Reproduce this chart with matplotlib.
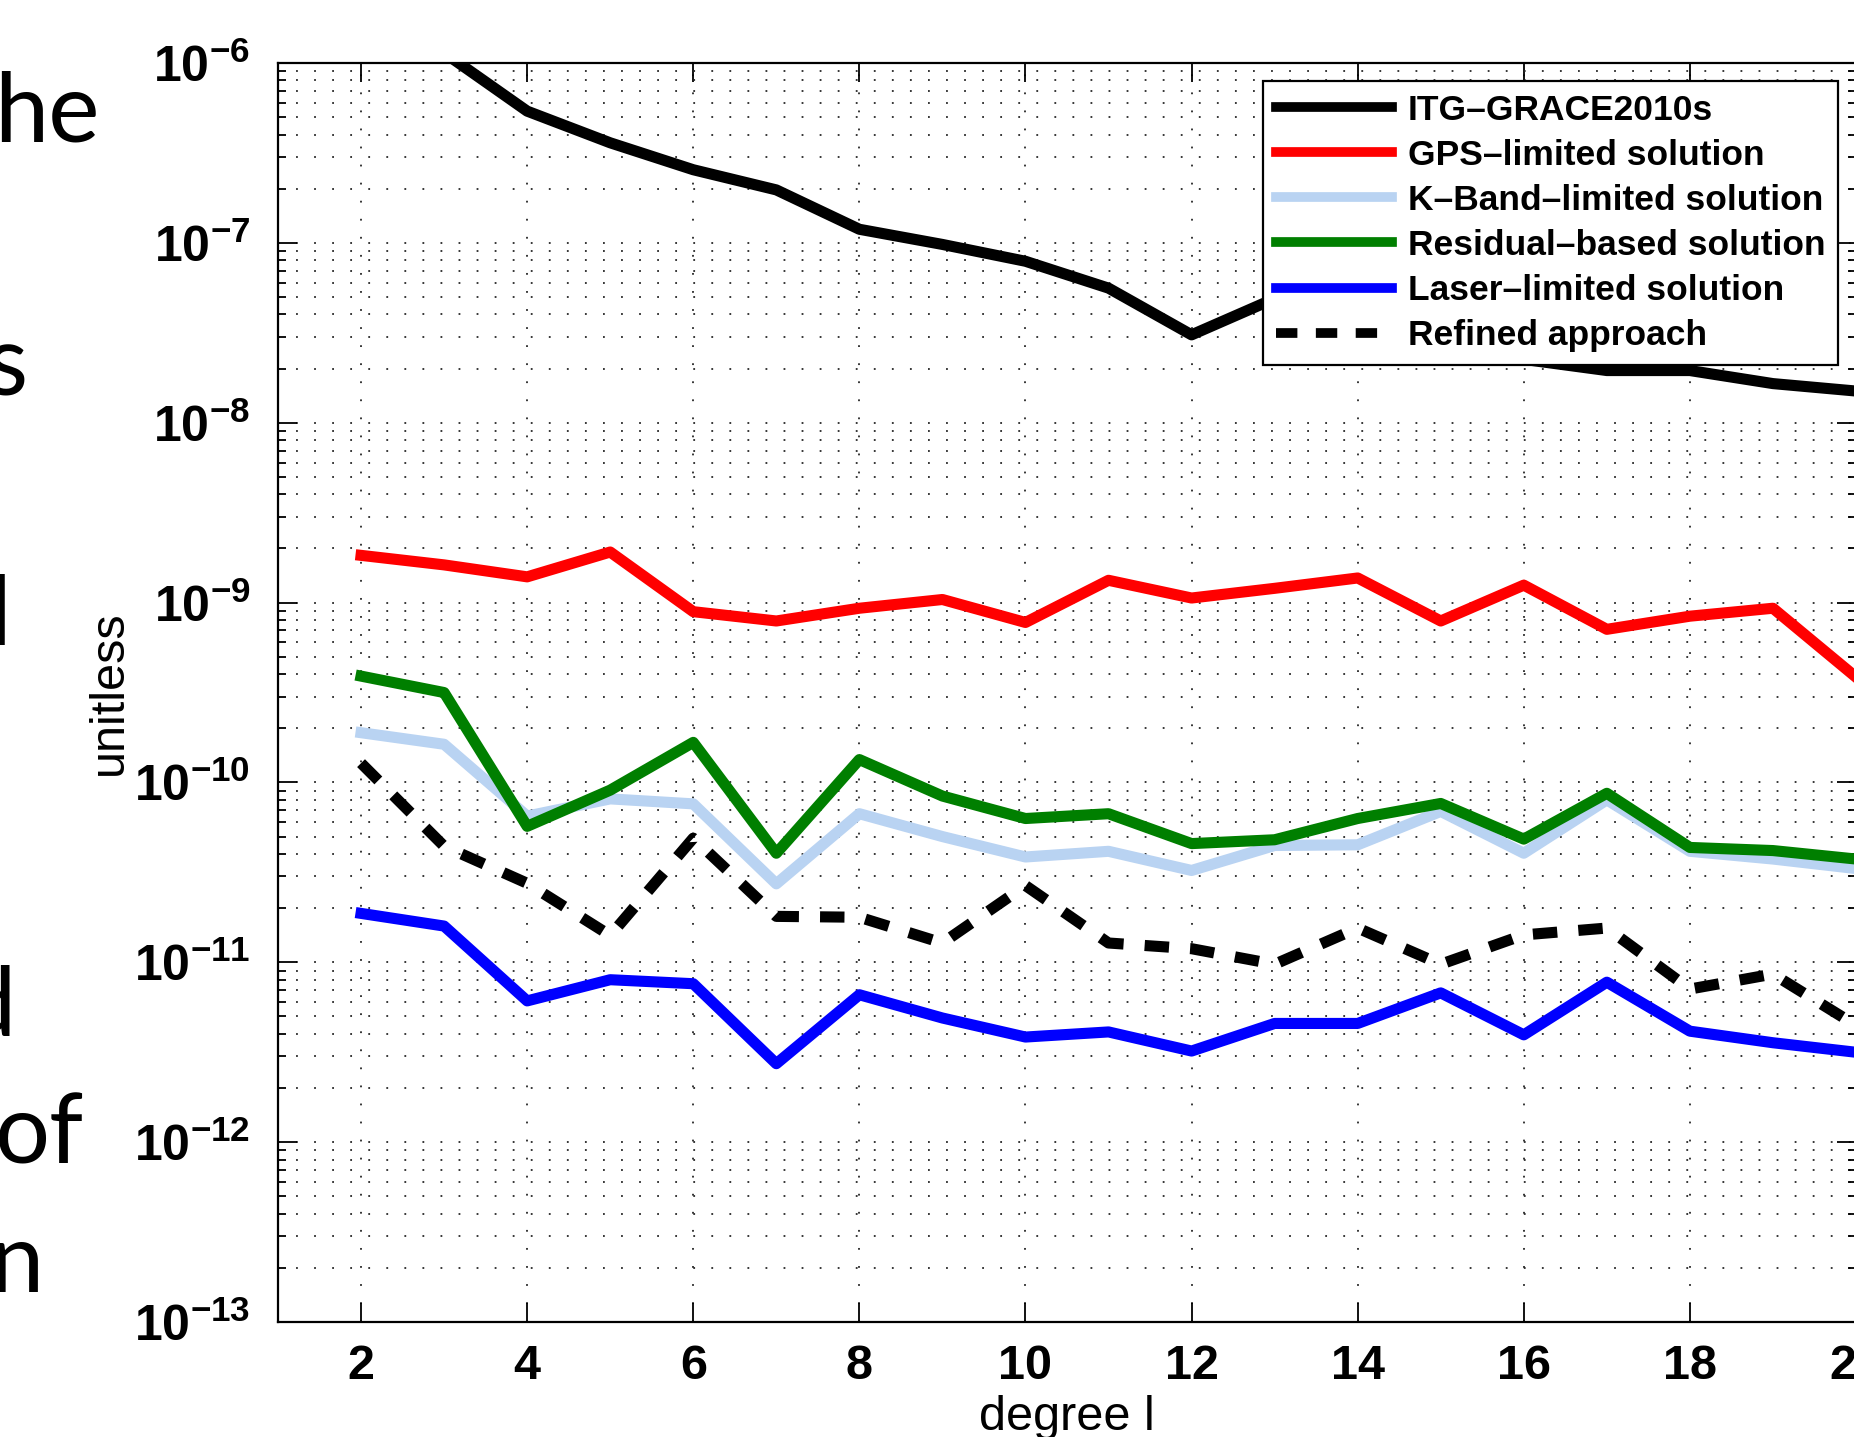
import numpy as np
import matplotlib
matplotlib.use("Agg")
import matplotlib.pyplot as plt
from matplotlib.ticker import FixedLocator, LogLocator, NullFormatter

plt.rcParams['mathtext.fontset'] = 'custom'
plt.rcParams['mathtext.rm'] = 'Liberation Sans'
plt.rcParams['mathtext.bf'] = 'Liberation Sans:bold'

# degree l
degree = np.arange(2, 21)

# values
itg_grace = [2.5e-6, 1.14e-6, 5.4e-7, 3.6e-7, 2.55e-7, 1.97e-7, 1.19e-7, 9.8e-8, 7.9e-8, 5.6e-8,
             3.08e-8, 4.9e-8, 3.8e-8, 2.9e-8, 2.25e-8, 1.95e-8, 1.95e-8, 1.65e-8, 1.5e-8]
gps_limited = [1.83e-9, 1.62e-9, 1.39e-9, 1.91e-9, 8.9e-10, 7.9e-10, 9.3e-10, 1.04e-9, 7.75e-10, 1.33e-9,
               1.06e-9, 1.2e-9, 1.37e-9, 7.9e-10, 1.25e-9, 7.1e-10, 8.4e-10, 9.3e-10, 3.85e-10]
kband_limited = [1.89e-10, 1.63e-10, 6.5e-11, 8.1e-11, 7.6e-11, 2.73e-11, 6.7e-11, 5.0e-11, 3.85e-11, 4.14e-11,
                 3.24e-11, 4.46e-11, 4.5e-11, 6.9e-11, 4.04e-11, 8.0e-11, 4.14e-11, 3.75e-11, 3.32e-11]
residual_based = [3.9e-10, 3.16e-10, 5.7e-11, 9.06e-11, 1.67e-10, 4.04e-11, 1.34e-10, 8.4e-11, 6.3e-11, 6.7e-11,
                  4.57e-11, 4.8e-11, 6.3e-11, 7.64e-11, 4.84e-11, 8.7e-11, 4.35e-11, 4.18e-11, 3.75e-11]
laser_limited = [1.87e-11, 1.59e-11, 6.1e-12, 8.0e-12, 7.6e-12, 2.73e-12, 6.6e-12, 4.9e-12, 3.84e-12, 4.1e-12,
                 3.21e-12, 4.57e-12, 4.57e-12, 6.76e-12, 3.95e-12, 7.75e-12, 4.14e-12, 3.57e-12, 3.16e-12]
refined = [1.28e-10, 4.42e-11, 2.75e-11, 1.41e-11, 4.9e-11, 1.8e-11, 1.78e-11, 1.28e-11, 2.67e-11, 1.28e-11,
           1.19e-11, 9.75e-12, 1.55e-11, 9.75e-12, 1.42e-11, 1.55e-11, 7.1e-12, 8.6e-12, 4.46e-12]

labels = ['ITG\u2013GRACE2010s', 'GPS\u2013limited solution', 'K\u2013Band\u2013limited solution',
          'Residual\u2013based solution', 'Laser\u2013limited solution', 'Refined approach']

x_ticks = [2, 4, 6, 8, 10, 12, 14, 16, 18, 20]
y_exps = [-13, -12, -11, -10, -9, -8, -7, -6]

# cut-off words of the slide text on the left
slide_words = ['he', 's', 'l', 'd', 'of', 'n']

W, H = 1854, 1437
fig = plt.figure(figsize=(W / 100, H / 100), dpi=100)
fig.patch.set_facecolor('white')

ax = fig.add_axes([278 / W, (H - 1322) / H, (1856 - 278) / W, (1322 - 63) / H])
ax.set_yscale('log')

lw = 8
ax.plot(degree, itg_grace, color='black', lw=lw, label=labels[0])
ax.plot(degree, gps_limited, color='#ff0000', lw=lw, label=labels[1])
ax.plot(degree, kband_limited, color='#b9d3f2', lw=lw, label=labels[2])
ax.plot(degree, residual_based, color='#007f00', lw=lw, label=labels[3])
ax.plot(degree, laser_limited, color='#0000ff', lw=lw, label=labels[4])
ax.plot(degree, refined, color='black', lw=lw, ls=(0, (2.2, 1.9)), label=labels[5])

ax.set_xlim(1, 20)
ax.set_ylim(1e-13, 1e-6)

ax.xaxis.set_major_locator(FixedLocator(x_ticks))
ax.set_xticklabels([str(t) for t in x_ticks], fontfamily='Liberation Sans', fontweight='bold', fontsize=35)

ax.yaxis.set_major_locator(FixedLocator([10.0 ** e for e in y_exps]))
ax.set_yticklabels([r'$\mathbf{10^{%d}}$' % e for e in y_exps], fontsize=36)
ax.yaxis.set_minor_locator(LogLocator(base=10, subs=np.arange(2, 10), numticks=50))
ax.yaxis.set_minor_formatter(NullFormatter())

ax.tick_params(which='both', direction='in', top=True, right=True, width=1.3)
ax.tick_params(which='major', length=14)
ax.tick_params(axis='x', which='major', pad=16)
ax.tick_params(axis='y', which='major', pad=20)
ax.tick_params(which='minor', length=6)

grid_style = dict(ls=(0, (1, 9)), lw=1.3, color='0.15')
ax.grid(True, which='major', axis='both', **grid_style)
ax.grid(True, which='minor', axis='y', **grid_style)
ax.set_axisbelow(True)

for s in ax.spines.values():
    s.set_linewidth(1.6)

ax.set_ylabel('unitless', fontfamily='Liberation Sans', fontsize=35, labelpad=1)
ax.set_xlabel('degree l', fontfamily='Liberation Sans', fontsize=35, labelpad=4)

leg = ax.legend(loc='upper left', bbox_to_anchor=(1263 / W, 1 - 81 / H), bbox_transform=fig.transFigure,
                prop={'family': 'Liberation Sans', 'weight': 'bold', 'size': 25.5},
                handlelength=3.27, handletextpad=0.45, labelspacing=0.34, borderpad=0.36,
                borderaxespad=0, fancybox=False, framealpha=1, edgecolor='black')
leg.get_frame().set_linewidth(1.6)
for h in leg.get_lines():
    h.set_linewidth(7)

# slide text fragments (cut off by the crop)
word_right = [100, 28, 12, 16, 84, 43]
word_base = [142, 396, 645, 1036, 1163, 1292]
for w, xr, yb in zip(slide_words, word_right, word_base):
    fig.text(xr / W, 1 - yb / H, w, ha='right', va='baseline', fontfamily='Lato', fontsize=70, color='black')

fig.savefig('out.png', dpi=100)
